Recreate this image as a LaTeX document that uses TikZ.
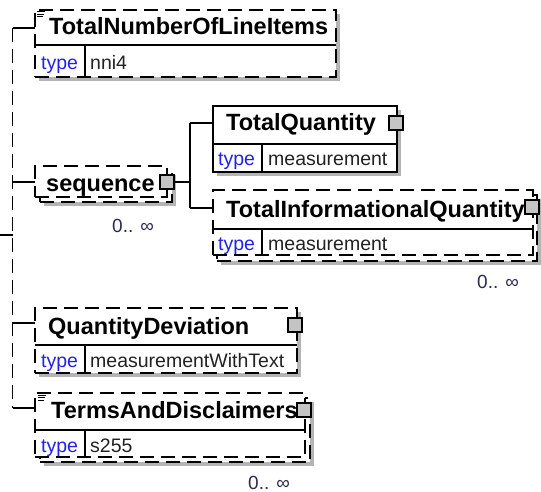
\documentclass[tikz,border=0pt]{standalone}
\usepackage{fontspec}
\setmainfont{Liberation Sans}
\definecolor{typeblue}{HTML}{2222EE}
\definecolor{valgray}{HTML}{222222}
\definecolor{cardcol}{HTML}{2B2B50}
\definecolor{shdcol}{HTML}{B4B4B4}
\definecolor{sqcol}{HTML}{C4C4C4}
\tikzset{
  bx/.style={draw=black, line width=1.3pt, fill=white, inner sep=0pt, outer sep=0pt, anchor=north west},
  dsh/.style={dash pattern=on 14pt off 7pt},
  shd/.style={fill=shdcol, draw=none},
  sqbox/.style={draw=black, line width=1.1pt, fill=sqcol, minimum size=14pt, inner sep=0pt, outer sep=0pt},
  conn/.style={line width=1.3pt},
  divl/.style={line width=1.3pt},
  ttl/.style={font=\fontsize{23.5}{24}\selectfont\bfseries, text=black, anchor=base west, inner sep=0pt},
  tlab/.style={font=\fontsize{19.5}{20}\selectfont, text=typeblue, anchor=base west, inner sep=0pt},
  tval/.style={font=\fontsize{19.5}{20}\selectfont, text=valgray, anchor=base west, inner sep=0pt},
  card/.style={font=\fontsize{19}{20}\selectfont, text=cardcol, anchor=base west, inner sep=0pt},
  docicon/.style={line width=0.9pt}
}
\begin{document}
\begin{tikzpicture}[x=1pt,y=-1pt]
\useasboundingbox (0,0) rectangle (541,492);
\fill[white] (0,0) rectangle (541,492);

% ---------- spine ----------
\coordinate (sptop) at (12.5,28);
\coordinate (spbot) at (12.5,408);
\coordinate (spmid) at (12.5,235);
\coordinate (stub) at (0,235);
\coordinate (spseq) at (12.5,182);
\coordinate (spqd) at (12.5,323);

% ---------- TotalNumberOfLineItems ----------
\fill[shd] (39,14) rectangle (340,81);
\node[bx,dsh,minimum width=301pt,minimum height=67pt] (tnli) at (35,10) {};
\draw[divl] (35,45) -- (336,45);
\draw[divl] (85,45) -- (85,77);
\draw[docicon] (37,11.5) -- (45,11.5) (37,14) -- (44,14) (37,16.5) -- (43,16.5);
\node[ttl] (tnlit) at (49,35) {TotalNumberOfLineItems};
\node[tlab] (tnlil) at (41,70) {type};
\node[tval] (tnliv) at (90,70) {nni4};

% ---------- sequence ----------
\fill[shd] (44,175) rectangle (176,206);
\node[bx,dsh,minimum width=132pt,minimum height=31pt] (seqb) at (40,171) {};
\node[bx,dsh,minimum width=132pt,minimum height=31pt] (seq) at (35,166) {};
\node[ttl] (seqt) at (46,191) {sequence};
\node[sqbox] (seqsq) at (167,182) {};
\node[card] (seqc) at (112,232) {0.. ∞};

% ---------- TotalQuantity ----------
\fill[shd] (217,110) rectangle (401,176);
\node[bx,minimum width=184pt,minimum height=66pt] (tq) at (213,106) {};
\draw[divl] (213,144) -- (397,144);
\draw[divl] (262,144) -- (262,172);
\node[ttl] (tqt) at (226,131) {TotalQuantity};
\node[tlab] (tql) at (218,165) {type};
\node[tval] (tqv) at (268,165) {measurement};
\node[sqbox] (tqsq) at (396,123) {};

% ---------- TotalInformationalQuantity ----------
\fill[shd] (221,199) rectangle (541,265);
\node[bx,dsh,minimum width=320pt,minimum height=66pt] (tiqb) at (217,195) {};
\node[bx,dsh,minimum width=320pt,minimum height=65pt] (tiq) at (213,190) {};
\draw[divl] (213,229) -- (533,229);
\draw[divl] (262,229) -- (262,255);
\node[ttl] (tiqt) at (226,217) {TotalInformationalQuantity};
\node[tlab] (tiql) at (218,250) {type};
\node[tval] (tiqv) at (268,250) {measurement};
\node[sqbox] (tiqsq) at (532,207) {};
\node[card] (tiqc) at (477,288) {0.. ∞};

% ---------- QuantityDeviation ----------
\fill[shd] (39,312) rectangle (301,377);
\node[bx,dsh,minimum width=262pt,minimum height=65pt] (qd) at (35,308) {};
\draw[divl] (35,345) -- (297,345);
\draw[divl] (85,345) -- (85,373);
\node[ttl] (qdt) at (48,334) {QuantityDeviation};
\node[tlab] (qdl) at (41,367) {type};
\node[tval] (qdv) at (90,367) {measurementWithText};
\node[sqbox] (qdsq) at (295,325) {};

% ---------- TermsAndDisclaimers ----------
\fill[shd] (44,402) rectangle (314,466);
\node[bx,dsh,minimum width=270pt,minimum height=64pt] (tadb) at (40,398) {};
\node[bx,dsh,minimum width=270pt,minimum height=64pt] (tad) at (35,393) {};
\draw[divl] (35,430) -- (305,430);
\draw[divl] (85,430) -- (85,457);
\draw[docicon] (38,395) -- (46,395) (38,397.5) -- (45,397.5) (38,400) -- (44,400);
\node[ttl] (tadt) at (51,418) {TermsAndDisclaimers};
\node[tlab] (tadl) at (41,452) {type};
\node[tval] (tadv) at (90,452) {s255};
\node[sqbox] (tadsq) at (304,410) {};
\node[card] (tadc) at (248,489) {0.. ∞};

% ---------- connectors ----------
\draw[conn,dsh] (sptop) -- (spbot);
\draw[conn] (stub) -- (spmid);
\draw[conn] (sptop) -- (tnli.west |- sptop);
\draw[conn] (spseq) -- (seq.west |- spseq);
\draw[conn] (spqd) -- (qd.west |- spqd);
\draw[conn] (spbot) -- (tad.west |- spbot);

\coordinate (bustop) at (190,123);
\coordinate (busbot) at (190,208);
\draw[conn] (seqsq.east) -- (seqsq.east -| bustop);
\draw[conn] (bustop) -- (busbot);
\draw[conn] (bustop) -- (tq.west |- bustop);
\draw[conn] (busbot) -- (tiq.west |- busbot);
\end{tikzpicture}
\end{document}
